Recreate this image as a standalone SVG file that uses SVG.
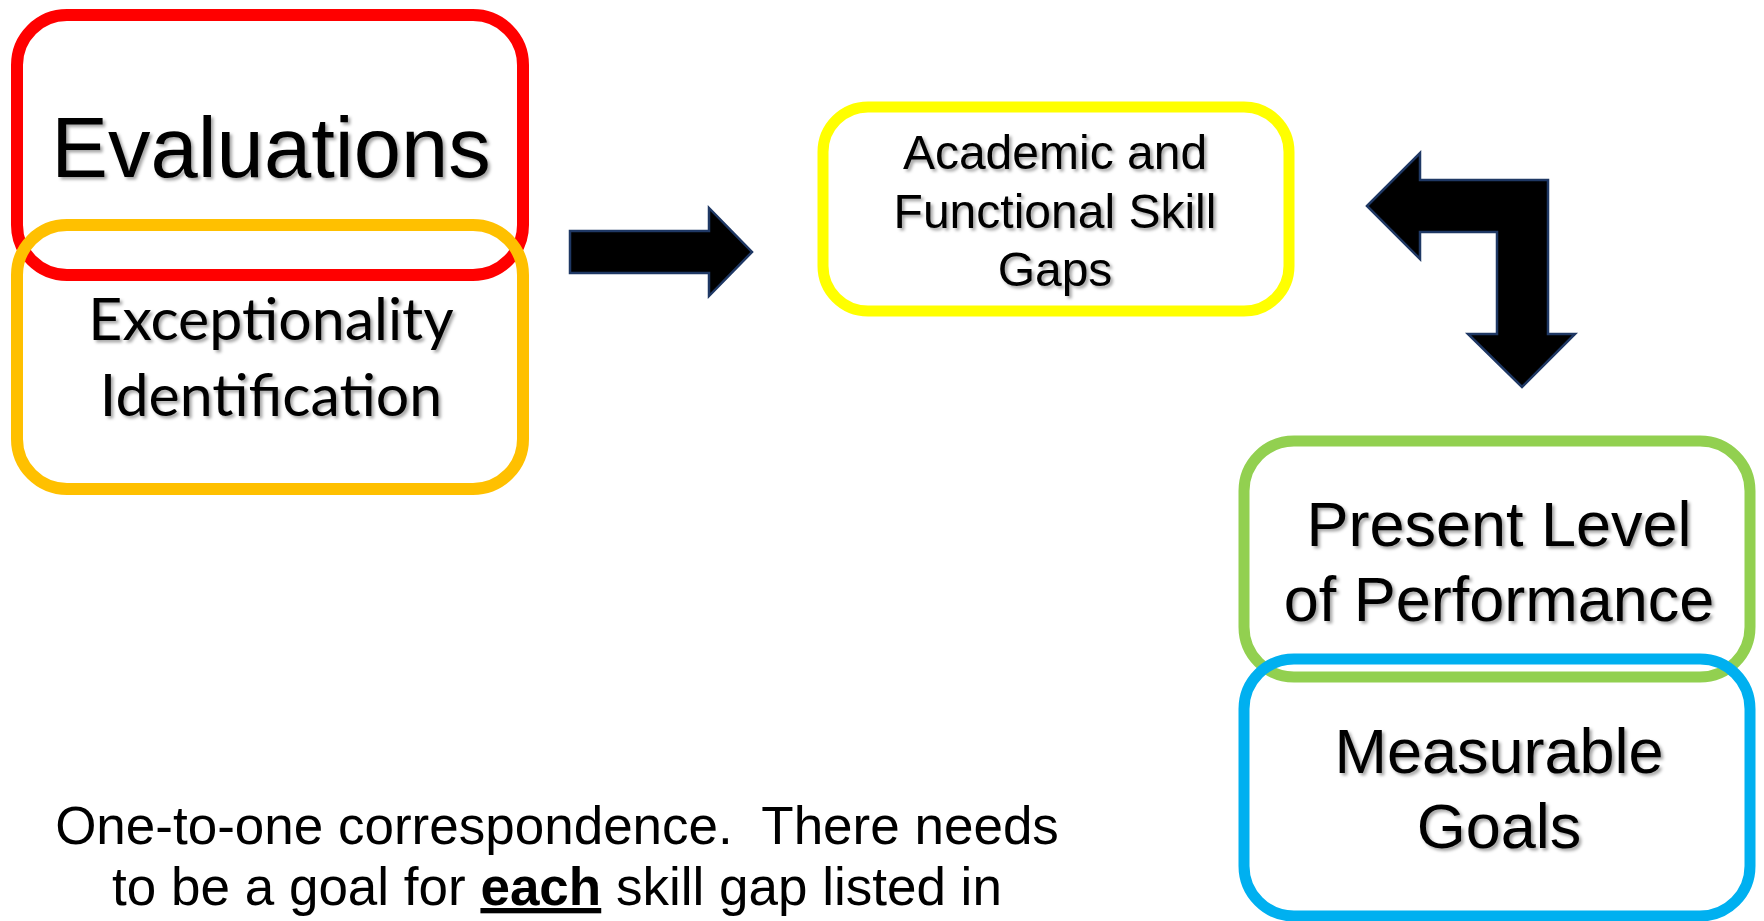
<svg xmlns="http://www.w3.org/2000/svg" width="1764" height="921" viewBox="0 0 1764 921">
<style>
.box{fill:none;}
.arrow{fill:#000;stroke:#1F3864;stroke-width:2.5;stroke-linejoin:miter;}
.arial{font-family:"Liberation Sans",Arial,sans-serif;fill:#000;text-anchor:middle;}
.cal{font-family:Lato,"Open Sans",sans-serif;fill:#000;text-anchor:middle;}
.sh{filter:url(#ds);}
</style>
<defs>
<filter id="ds" x="-10%" y="-20%" width="120%" height="150%">
<feDropShadow dx="2.5" dy="2.5" stdDeviation="1.5" flood-color="#000" flood-opacity="0.35"/>
</filter>
</defs>
<rect width="1764" height="921" fill="#fff"/>

<g id="evaluations">
<rect class="box" x="17" y="15" width="506" height="260" rx="50" stroke="#FF0000" stroke-width="12"/>
<text class="arial sh" x="271" y="177" font-size="85">Evaluations</text>
</g>
<g id="exceptionality">
<rect class="box" x="17" y="225" width="506" height="264" rx="50" stroke="#FFC000" stroke-width="12"/>
<text class="cal sh" x="271" y="340" font-size="59">Exceptionality</text>
<text class="cal sh" x="271" y="416" font-size="59">Identification</text>
</g>
<g id="skill-gaps">
<rect class="box" x="823" y="107" width="466" height="204" rx="45" stroke="#FFFF00" stroke-width="11"/>
<text class="arial sh" x="1055" y="169" font-size="48">Academic and</text>
<text class="arial sh" x="1055" y="228" font-size="48">Functional Skill</text>
<text class="arial sh" x="1055" y="286" font-size="48">Gaps</text>
</g>
<g id="present-level">
<rect class="box" x="1244" y="441" width="506" height="236" rx="50" stroke="#92D050" stroke-width="11"/>
<text class="arial sh" x="1499" y="546" font-size="63">Present Level</text>
<text class="arial sh" x="1499" y="621" font-size="63">of Performance</text>
</g>
<g id="measurable-goals">
<rect class="box" x="1244" y="659" width="506" height="257" rx="50" stroke="#00B0F0" stroke-width="11"/>
<text class="arial sh" x="1499" y="773" font-size="63">Measurable</text>
<text class="arial sh" x="1499" y="848" font-size="63">Goals</text>
</g>
<g id="connectors">
<polygon class="arrow" points="570,231 709,231 709,208 752,252 709,296 709,273 570,273"/>
<polygon class="arrow" points="1367,206 1420,153 1420,180 1548,180 1548,334 1575,334 1522,387 1468,334 1497,334 1497,232 1420,232 1420,259"/>
</g>
<g id="note">
<text class="arial" x="557" y="844" font-size="53" xml:space="preserve">One-to-one correspondence.  There needs</text>
<text class="arial" x="557" y="905" font-size="53" xml:space="preserve">to be a goal for <tspan font-weight="bold" text-decoration="underline">each</tspan> skill gap listed in</text>
</g>
</svg>
